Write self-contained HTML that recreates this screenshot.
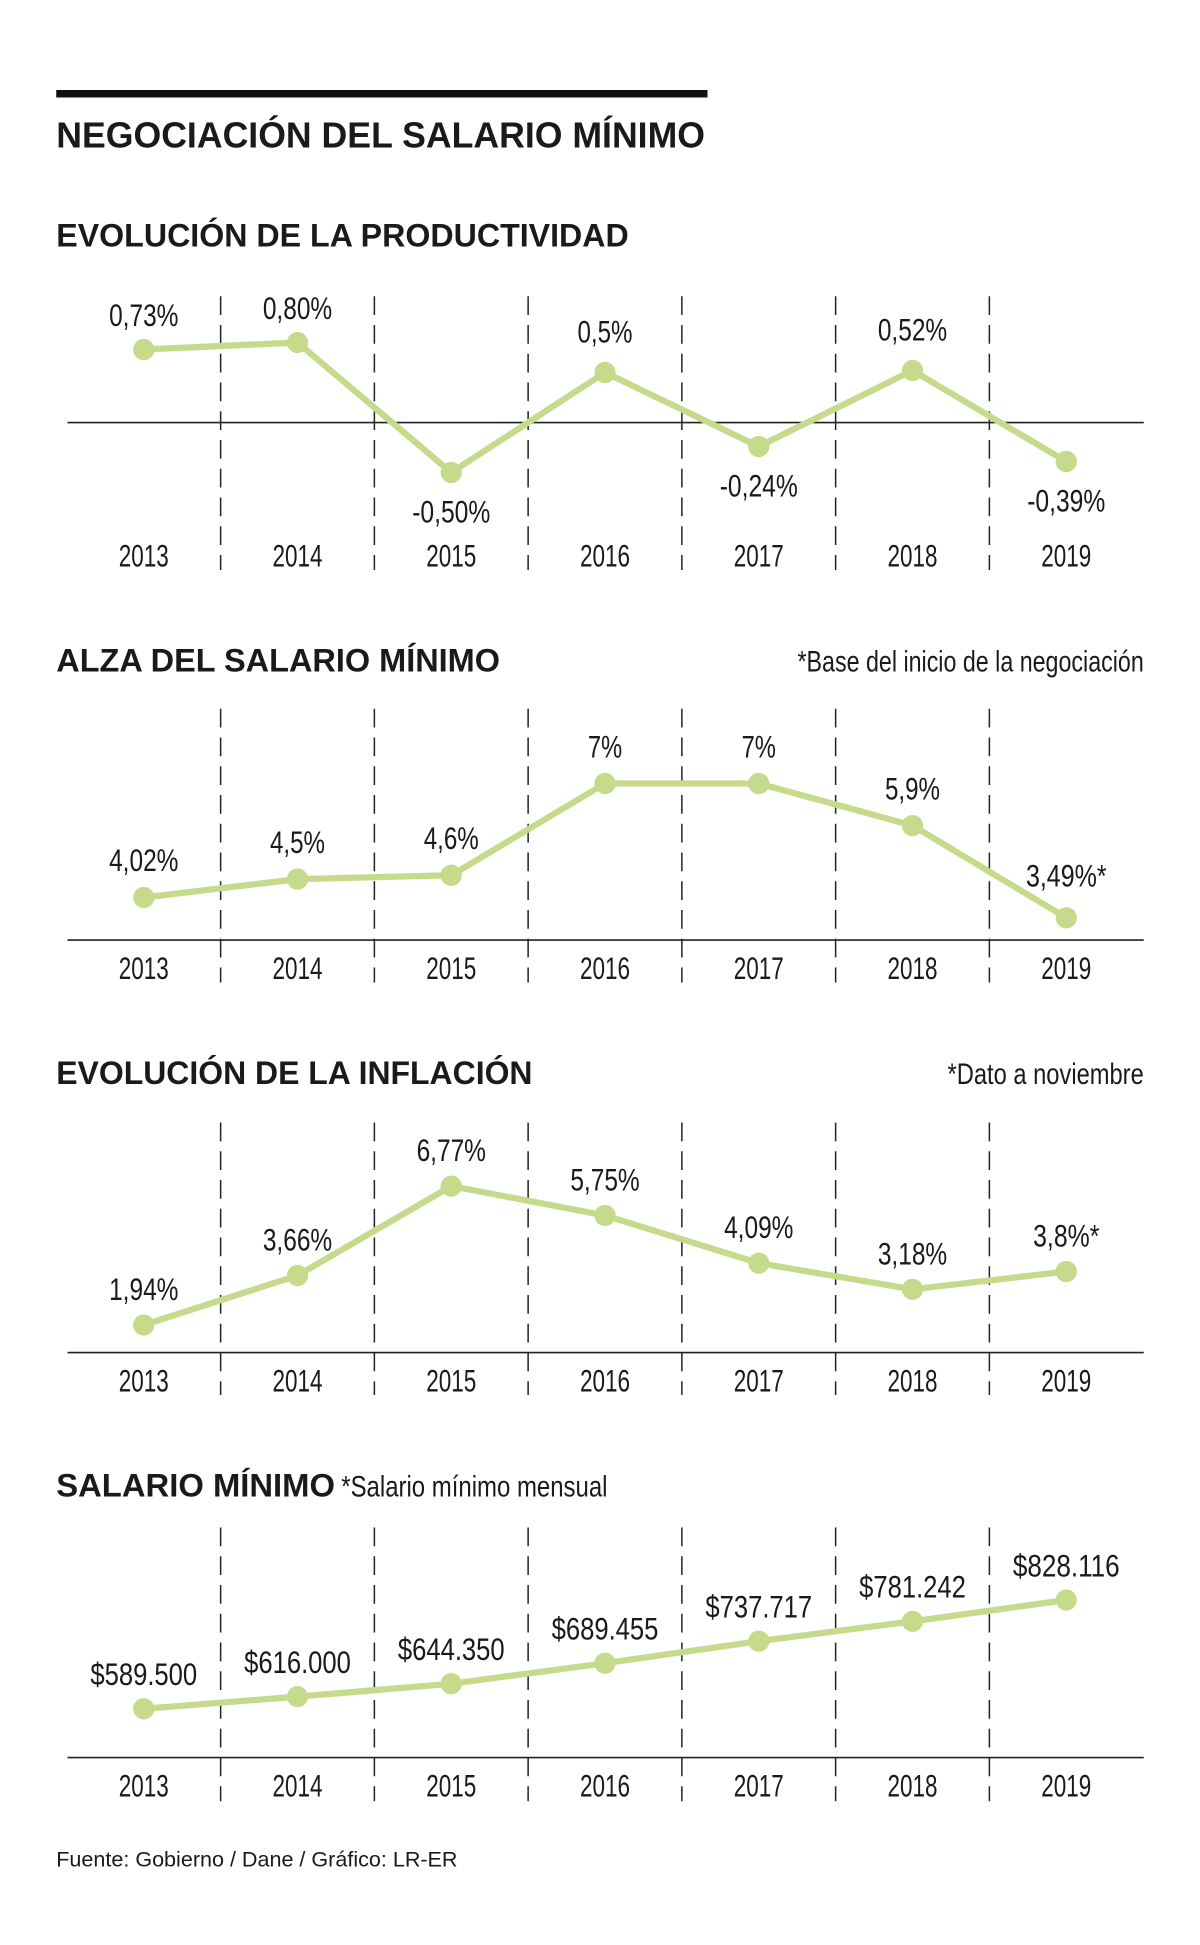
<!DOCTYPE html>
<html><head><meta charset="utf-8">
<style>
html,body{margin:0;padding:0;background:#fff;}
svg{display:block;}
text{font-family:"Liberation Sans Narrow","Liberation Sans",sans-serif;fill:#1a1a1a;}
.t{font-weight:bold;}
</style></head>
<body>
<svg id="chart" width="1200" height="1945" viewBox="0 0 960 1556" xmlns="http://www.w3.org/2000/svg">
<rect x="45" y="72" width="521" height="6" fill="#111"/>
<text class="t" x="45" y="118" font-size="29" textLength="519" lengthAdjust="spacingAndGlyphs">NEGOCIACIÓN DEL SALARIO MÍNIMO</text>
<text class="t" x="45" y="197" font-size="26" textLength="458" lengthAdjust="spacingAndGlyphs">EVOLUCIÓN DE LA PRODUCTIVIDAD</text>
<text class="t" x="45" y="537" font-size="26" textLength="355" lengthAdjust="spacingAndGlyphs">ALZA DEL SALARIO MÍNIMO</text>
<text x="915" y="537" font-size="24" text-anchor="end" textLength="277" lengthAdjust="spacingAndGlyphs">*Base del inicio de la negociación</text>
<text class="t" x="45" y="867" font-size="26" textLength="381" lengthAdjust="spacingAndGlyphs">EVOLUCIÓN DE LA INFLACIÓN</text>
<text x="915" y="867" font-size="24" text-anchor="end" textLength="157" lengthAdjust="spacingAndGlyphs">*Dato a noviembre</text>
<text class="t" x="45" y="1197" font-size="26" textLength="223" lengthAdjust="spacingAndGlyphs">SALARIO MÍNIMO</text>
<text x="273" y="1197" font-size="24" textLength="213" lengthAdjust="spacingAndGlyphs">*Salario mínimo mensual</text>
<text x="45" y="1493" font-size="17" fill="#333" style="font-family:'Liberation Sans',sans-serif" textLength="321" lengthAdjust="spacingAndGlyphs">Fuente: Gobierno / Dane / Gráfico: LR-ER</text>
</svg>
<script>
const years = ["2013","2014","2015","2016","2017","2018","2019"];
const productivity = [0.73, 0.80, -0.50, 0.5, -0.24, 0.52, -0.39];
const productivityLabels = ["0,73%","0,80%","-0,50%","0,5%","-0,24%","0,52%","-0,39%"];
const salaryIncrease = [4.02, 4.5, 4.6, 7, 7, 5.9, 3.49];
const salaryIncreaseLabels = ["4,02%","4,5%","4,6%","7%","7%","5,9%","3,49%*"];
const inflation = [1.94, 3.66, 6.77, 5.75, 4.09, 3.18, 3.8];
const inflationLabels = ["1,94%","3,66%","6,77%","5,75%","4,09%","3,18%","3,8%*"];
const minSalary = [589500, 616000, 644350, 689455, 737717, 781242, 828116];
const minSalaryLabels = ["$589.500","$616.000","$644.350","$689.455","$737.717","$781.242","$828.116"];

const NS = "http://www.w3.org/2000/svg";
const svg = document.getElementById("chart");
function el(tag, attrs){ const e=document.createElementNS(NS,tag); for(const k in attrs) e.setAttribute(k,attrs[k]); svg.appendChild(e); return e; }
const xScale = i => 115 + i*123;
function textW(s){ let w=0; for(const ch of s){ w += (ch===','||ch==='.')?5:(ch==='%'?16:(ch==='-'?7:(ch==='*'?9:11.5))); } return w; }

function drawChart(key, values, labels, yScale, axisY, dashTop, dashBot, yearY, labelPos){
  for(let i=1;i<years.length;i++){
    const d = el("line",{x1:xScale(i)-61.5,x2:xScale(i)-61.5,y1:dashTop,y2:dashBot,stroke:"#222","stroke-width":1.2,"stroke-dasharray":"15 8"});
    
    
  }
  const ax = el("line",{x1:54,x2:915,y1:axisY,y2:axisY,stroke:"#222","stroke-width":1.3});
  
  
  const pts = values.map((v,i)=>xScale(i)+","+yScale(v)).join(" ");
  const pl = el("polyline",{points:pts,fill:"none",stroke:"#c6da8c","stroke-width":5,"stroke-linejoin":"round"});
  
  
  values.forEach((v,i)=>{
    const c = el("circle",{cx:xScale(i),cy:yScale(v),r:8.5,fill:"#c6da8c"});
    
    
    const ly = labelPos(v,i);
    const t = el("text",{x:xScale(i),y:ly,"font-size":25,"text-anchor":"middle",textLength:textW(labels[i]),lengthAdjust:"spacingAndGlyphs"});
    t.textContent = labels[i];
    
    
    const yt = el("text",{x:xScale(i),y:yearY,"font-size":25,"text-anchor":"middle",fill:"#444",textLength:40,lengthAdjust:"spacingAndGlyphs"});
    yt.textContent = years[i];
    
    
  });
}

const yProd = v => 338 - v*80;
drawChart("productivity", productivity, productivityLabels, yProd, 338, 237, 456, 453,
  (v,i)=> v>=0 ? yProd(v)-(i<2?19:24) : yProd(v)+40);
const ySal = v => 841 - v*30.6;
drawChart("salary-increase", salaryIncrease, salaryIncreaseLabels, ySal, 752, 567, 786, 783,
  (v,i)=> ySal(v) - (i===6?25:21));
const yInf = v => 1104.6 - v*23;
drawChart("inflation", inflation, inflationLabels, yInf, 1082, 898, 1116, 1113,
  (v,i)=> yInf(v) - 20);
const yMin = v => 1367 - (v-589500)*0.0003646;
drawChart("minimum-salary", minSalary, minSalaryLabels, yMin, 1406, 1222, 1441, 1437,
  (v,i)=> yMin(v) - 19);
</script>
</body></html>
